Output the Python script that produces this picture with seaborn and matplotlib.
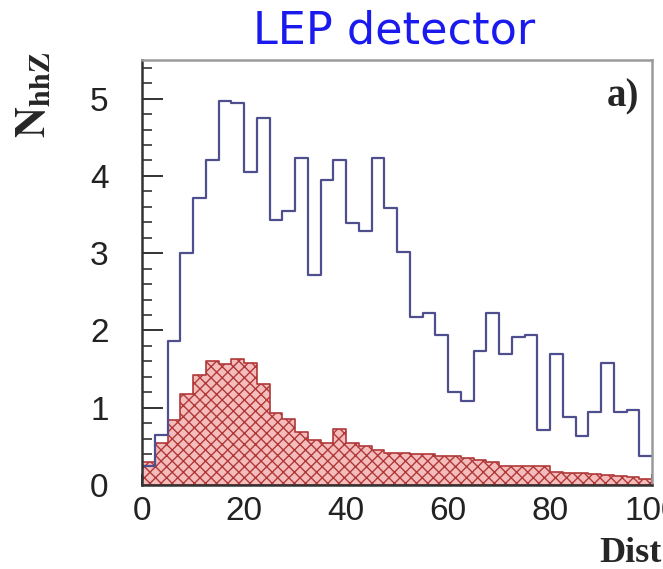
import numpy as np
import pandas as pd
import matplotlib
matplotlib.use("Agg")
import matplotlib.pyplot as plt
from matplotlib.ticker import MultipleLocator
import seaborn as sns

# ---- data ----
bin_width = 2.5
bin_range = (0, 100)
bin_centers = np.arange(bin_range[0], bin_range[1], bin_width) + bin_width / 2

signal_hhZ = [0.25, 0.65, 1.86, 3.00, 3.71, 4.21, 4.97, 4.94, 4.05, 4.75,
              3.43, 3.55, 4.23, 2.72, 3.95, 4.21, 3.39, 3.29, 4.23, 3.59,
              3.02, 2.17, 2.22, 1.94, 1.21, 1.09, 1.73, 2.22, 1.70, 1.91,
              1.94, 0.71, 1.70, 0.88, 0.63, 0.94, 1.58, 0.94, 0.97, 0.38]

background = [0.30, 0.55, 0.84, 1.18, 1.43, 1.61, 1.56, 1.63, 1.58, 1.31,
              0.93, 0.85, 0.68, 0.58, 0.54, 0.72, 0.54, 0.50, 0.45, 0.42,
              0.41, 0.40, 0.40, 0.38, 0.37, 0.35, 0.32, 0.30, 0.25, 0.24,
              0.24, 0.24, 0.17, 0.16, 0.15, 0.14, 0.13, 0.12, 0.10, 0.08]

x_ticks = [0, 20, 40, 60, 80, 100]
y_ticks = [0, 1, 2, 3, 4, 5]

df = pd.DataFrame({"dist": bin_centers, "sig": signal_hhZ, "bkg": background})

# ---- style ----
sns.set_style("white")
plt.rcParams["font.family"] = ["Liberation Sans", "DejaVu Sans"]
plt.rcParams["mathtext.fontset"] = "stix"
plt.rcParams["hatch.color"] = "#b83a3a"
plt.rcParams["hatch.linewidth"] = 1.0

fig = plt.figure(figsize=(6.63, 5.69), dpi=100)
ax = fig.add_axes([142 / 663, 1 - 485 / 569, 510 / 663, 425 / 569])

sns.histplot(data=df, x="dist", weights="bkg", binwidth=bin_width, binrange=bin_range,
             element="step", fill=True, facecolor="#f5bcbc", edgecolor="#b03838",
             hatch="xxx", linewidth=1.2, alpha=1, ax=ax)
sns.histplot(data=df, x="dist", weights="sig", binwidth=bin_width, binrange=bin_range,
             element="step", fill=False, color="#4f4f8f", linewidth=1.6, ax=ax)

ax.set_xlim(0, 100)
ax.set_ylim(0, 5.5)
ax.set_xlabel("")
ax.set_ylabel("")
ax.set_xticks(x_ticks)
ax.set_yticks(y_ticks)
ax.xaxis.set_minor_locator(MultipleLocator(5))
ax.yaxis.set_minor_locator(MultipleLocator(0.2))
ax.tick_params(axis="both", which="both", direction="in", color="#222222",
               left=True, bottom=True, top=False, right=False)
ax.tick_params(axis="y", which="major", length=15, width=1.3, labelsize=24, pad=24)
ax.tick_params(axis="y", which="minor", length=7, width=1.1)
ax.tick_params(axis="x", which="major", length=8, width=1.3, labelsize=24, pad=8)
ax.tick_params(axis="x", which="minor", length=5, width=1.1)
for lab in ax.get_xticklabels() + ax.get_yticklabels():
    lab.set_color("#222222")

ax.spines["left"].set_color("#333333")
ax.spines["bottom"].set_color("#333333")
ax.spines["top"].set_color("#9a9a9a")
ax.spines["right"].set_color("#9a9a9a")
for s in ax.spines.values():
    s.set_linewidth(1.8)

ax.text(0.975, 0.913, "a)", transform=ax.transAxes, ha="right", va="center",
        fontsize=28, fontweight="bold", family="Liberation Serif")

fig.text(0.594, 0.945, "LEP detector", ha="center", va="center",
         fontsize=32, color="#1a1aee", family="DejaVu Sans")
fig.text(0.052, 0.833, r"$\mathbf{N}_{\mathbf{hhZ}}$", rotation=90,
         ha="center", va="center", fontsize=31)
fig.text(0.998, 0.028, "Dist", ha="right", va="center", fontsize=26,
         fontweight="bold", family="Liberation Serif")

fig.savefig("out.png", dpi=100)
